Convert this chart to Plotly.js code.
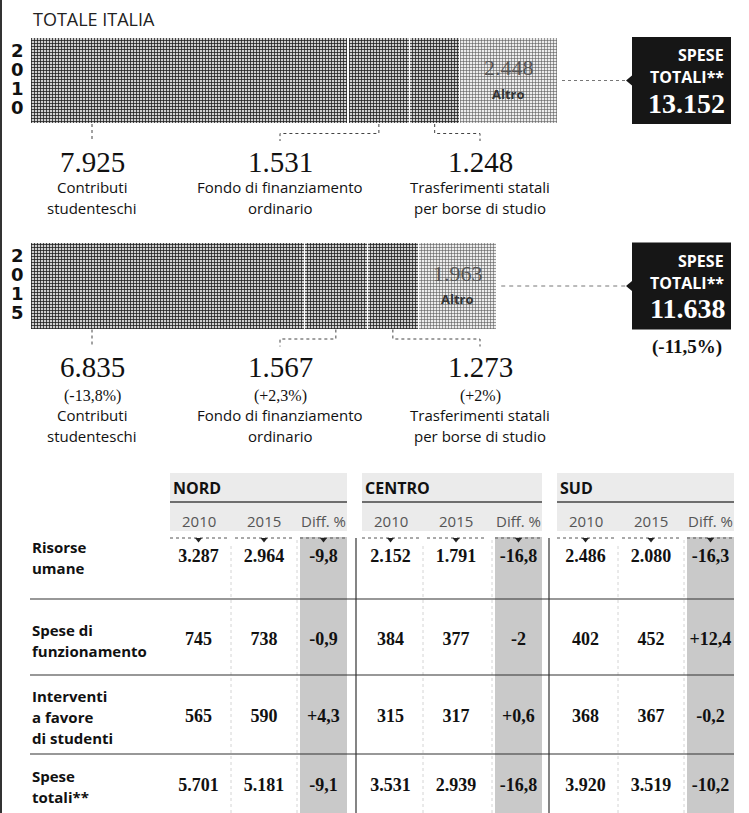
<!DOCTYPE html>
<html><head><meta charset="utf-8">
<script src="https://cdn.plot.ly/plotly-3.0.1.min.js"></script>
<style>html,body{margin:0;padding:0;background:#fff}</style>
</head><body><div id="chart" style="width:749px;height:813px"></div>
<script>
// ================= DATA =================
const years = ['2010', '2015'];
const segmentNames = ['Contributi<br>studenteschi', 'Fondo di finanziamento<br>ordinario', 'Trasferimenti statali<br>per borse di studio', 'Altro'];
const contributi = [7925, 6835];
const fondo = [1531, 1567];
const trasferimenti = [1248, 1273];
const altro = [2448, 1963];
const variazioni2015 = [-13.8, 2.3, 2];   // contributi, fondo, trasferimenti
const variazioneTotale2015 = -11.5;

const regions = ['NORD', 'CENTRO', 'SUD'];
const colHeaders = ['2010', '2015', 'Diff. %'];
const rowLabels = ['Risorse<br>umane', 'Spese di<br>funzionamento', 'Interventi<br>a favore<br>di studenti', 'Spese<br>totali**'];
const nord2010 = [3287, 745, 565, 5701];
const nord2015 = [2964, 738, 590, 5181];
const nordDiff = [-9.8, -0.9, 4.3, -9.1];
const centro2010 = [2152, 384, 315, 3531];
const centro2015 = [1791, 377, 317, 2939];
const centroDiff = [-16.8, -2, 0.6, -16.8];
const sud2010 = [2486, 402, 368, 3920];
const sud2015 = [2080, 452, 367, 3519];
const sudDiff = [-16.3, 12.4, -0.2, -10.2];

// ================= LAYOUT CONSTANTS =================
const W = 749, H = 813;
const SERIF = 'Liberation Serif, DejaVu Serif, serif';
const SANS = 'Open Sans, Noto Sans, sans-serif';
const BAR_X0 = 30, BAR_LEN_2010 = 528, BAR_CY = [80.5, 286], BAR_H = 87;
const LABEL_X = [92, 280, 480];
const BOX_X0 = 632, BOX_X1 = 731;
const GROUP_X0 = [170, 362, 557], GROUP_X1 = [347, 542, 734];
const HEAD_Y = 488, HEAD_LINE_Y = 502, SUB_Y = 521, BAND_TOP = 473, BAND_BOTTOM = 531, DOT_Y = 538;
const ROW_Y = [557, 640, 717, 786], ROW_LINE_Y = [599, 675, 754], SEP_X = [356, 549];

// ================= HELPERS =================
const segs = [contributi, fondo, trasferimenti, altro];
const totals = years.map((_, i) => segs.reduce((a, s) => a + s[i], 0));
const S = BAR_LEN_2010 / totals[0];
const toPx = v => BAR_X0 + v * S;
const CAT_STEP = BAR_CY[1] - BAR_CY[0];
const fmtInt = n => String(n).replace(/\B(?=(\d{3})+(?!\d))/g, '.');
const fmtDec = d => String(d).replace('.', ',');
const fmtDiff = d => (d > 0 ? '+' : '') + fmtDec(d);

function ann(x, y, text, font, xanchor, extra) {
  return Object.assign({x: x, y: y, xref: 'x2', yref: 'y2', text: text, showarrow: false,
    xanchor: xanchor || 'center', yanchor: 'middle', font: font}, extra || {});
}
const shapes = [], annotations = [], traces = [];
const line = (x0, y0, x1, y1, color, width, dash, layer) => shapes.push({type: 'line', xref: 'x2', yref: 'y2',
  x0: x0, y0: y0, x1: x1, y1: y1, line: {color: color, width: width, dash: dash || 'solid'}, layer: layer || 'above'});
const rect = (x0, y0, x1, y1, fill, layer) => shapes.push({type: 'rect', xref: 'x2', yref: 'y2',
  x0: x0, y0: y0, x1: x1, y1: y1, fillcolor: fill, line: {width: 0}, layer: layer || 'below'});
const path = (d, fill, lc, lw, dash) => shapes.push({type: 'path', xref: 'x2', yref: 'y2', path: d,
  fillcolor: fill || 'rgba(0,0,0,0)', line: {color: lc || 'rgba(0,0,0,0)', width: lw || 0, dash: dash || 'solid'}});

// ================= BARS =================
const darkPattern = {shape: '+', size: 3, solidity: 0.45, fgcolor: '#1e1e1e', bgcolor: '#cfcfcf', fillmode: 'replace'};
const lightPattern = {shape: '+', size: 3, solidity: 0.35, fgcolor: '#5a5a5a', bgcolor: '#ececec', fillmode: 'replace'};
segs.forEach((vals, k) => {
  traces.push({type: 'bar', orientation: 'h', x: vals, y: years, name: segmentNames[k],
    width: BAR_H / CAT_STEP, xaxis: 'x', yaxis: 'y', hoverinfo: 'skip',
    marker: {color: k < 3 ? '#777' : '#b0b0b0', pattern: k < 3 ? darkPattern : lightPattern,
      line: {color: '#fff', width: 1.5}}});
});

annotations.push(ann(31, 18.5, 'TOTALE ITALIA', {family: SANS, size: 18, color: '#222'}, 'left'));

years.forEach((yr, i) => {
  const cy = BAR_CY[i], top = cy - BAR_H / 2, bottom = cy + BAR_H / 2;
  // year digits
  yr.split('').forEach((d, k) => annotations.push(ann(17, cy - 2 + (k - 1.5) * 19, '<b>' + d + '</b>',
    {family: 'DejaVu Sans, sans-serif', size: 18, color: '#111'})));
  // Altro label
  const altroStart = contributi[i] + fondo[i] + trasferimenti[i];
  annotations.push({x: altroStart + altro[i] / 2, y: i, xref: 'x', yref: 'y', yshift: 13, showarrow: false,
    text: fmtInt(altro[i]), font: {family: SERIF, size: 22, color: '#555'}});
  annotations.push({x: altroStart + altro[i] / 2, y: i, xref: 'x', yref: 'y', yshift: -13, showarrow: false,
    text: '<b>' + segmentNames[3] + '</b>', font: {family: SANS, size: 13, color: '#333'}});
  // connectors and labels for first three segments
  let cum = 0;
  for (let k = 0; k < 3; k++) {
    const v = segs[k][i];
    const cx = toPx(cum + v / 2);
    const knee = bottom + 9.5, end = bottom + 17;
    if (k === 0) path('M' + LABEL_X[0] + ',' + bottom + ' V' + end, null, '#444', 1, 'dot');
    else path('M' + cx + ',' + bottom + ' V' + knee + ' H' + LABEL_X[k] + ' V' + end, null, '#444', 1, 'dot');
    cum += v;
    annotations.push(ann(LABEL_X[k], bottom + 37.5, fmtInt(v), {family: SERIF, size: 29, color: '#111'}));
    let nameY = bottom + 63;
    if (i === 1) {
      annotations.push(ann(LABEL_X[k], bottom + 66, '(' + (variazioni2015[k] > 0 ? '+' : '') + fmtDec(variazioni2015[k]) + '%)',
        {family: SERIF, size: 16, color: '#111'}));
      nameY = bottom + 85;
    }
    segmentNames[k].split('<br>').forEach((ln, j) => annotations.push(ann(LABEL_X[k], nameY + j * 21, ln,
      {family: SANS, size: 15, color: '#111'})));
  }
  // total box
  const endPx = toPx(totals[i]);
  line(endPx + 4, cy, BOX_X0 - 6, cy, '#777', 1, i === 0 ? 'dot' : '4px,4px');
  rect(BOX_X0, top, BOX_X1, bottom, '#161616', 'above');
  path('M' + BOX_X0 + ',' + (cy - 5) + ' L' + (BOX_X0 - 6) + ',' + cy + ' L' + BOX_X0 + ',' + (cy + 5) + ' Z', '#161616');
  annotations.push(ann(BOX_X1 - 5, top + 18, '<b>SPESE</b>', {family: SANS, size: 16, color: '#fff'}, 'right'));
  annotations.push(ann(BOX_X1 - 5, top + 40, '<b>TOTALI**</b>', {family: SANS, size: 16, color: '#fff'}, 'right'));
  annotations.push(ann(BOX_X1 - 4, top + 66, '<b>' + fmtInt(totals[i]) + '</b>', {family: SERIF, size: 28, color: '#fff'}, 'right'));
  if (i === 1) annotations.push(ann((BOX_X0 + BOX_X1) / 2 + 5, bottom + 17, '<b>(' + fmtDec(variazioneTotale2015) + '%)</b>',
    {family: SERIF, size: 19, color: '#111'}));
});

// ================= TABLE =================
line(1, 0, 1, H, '#333', 2);
const tableData = [[nord2010, nord2015, nordDiff], [centro2010, centro2015, centroDiff], [sud2010, sud2015, sudDiff]];
regions.forEach((reg, g) => {
  const x0 = GROUP_X0[g], x1 = GROUP_X1[g];
  const cols = [[x0, x0 + 57], [x0 + 65, x0 + 123], [x1 - 47, x1]];
  rect(x0, BAND_TOP, x1, BAND_BOTTOM, '#ebebeb');
  rect(x1 - 47, DOT_Y - 1, x1, H, '#c9c9c9');
  line(x0, HEAD_LINE_Y, x1, HEAD_LINE_Y, '#444', 1.5);
  annotations.push(ann(x0 + 1, HEAD_Y, '<b>' + reg + '</b>', {family: SANS, size: 16, color: '#111'}, 'left'));
  line(x0 + 61, DOT_Y + 8, x0 + 61, H, '#d4d4d4', 1, 'dot');
  line(x1 - 50, DOT_Y + 2, x1 - 50, H, '#d4d4d4', 1, 'dot');
  cols.forEach((c, j) => {
    const cx = (c[0] + c[1]) / 2;
    annotations.push(ann(cx, SUB_Y, colHeaders[j], {family: SANS, size: 15, color: '#555'}));
    line(c[0], DOT_Y, c[1], DOT_Y, '#555', 1, 'dot');
    path('M' + (cx - 3.5) + ',' + DOT_Y + ' L' + (cx + 3.5) + ',' + DOT_Y + ' L' + cx + ',' + (DOT_Y + 4.5) + ' Z', '#222');
    const vals = tableData[g][j];
    traces.push({type: 'scatter', mode: 'text', xaxis: 'x2', yaxis: 'y2', hoverinfo: 'skip',
      x: vals.map(() => cx), y: ROW_Y,
      text: vals.map(v => '<b>' + (j === 2 ? fmtDiff(v) : fmtInt(v)) + '</b>'),
      textfont: {family: SERIF, size: 18, color: '#111'}, textposition: 'middle center'});
  });
});
SEP_X.forEach(x => line(x, DOT_Y, x, H, '#333', 1.2));
ROW_LINE_Y.forEach(y => line(30, y, 734, y, '#333', 1.2));
rowLabels.forEach((lab, r) => {
  const parts = lab.split('<br>');
  parts.forEach((p, j) => annotations.push(ann(30, ROW_Y[r] + (j - (parts.length - 1) / 2) * 21, '<b>' + p + '</b>',
    {family: SANS, size: 15, color: '#111'}, 'left')));
});

// ================= LAYOUT =================
const layout = {
  width: W, height: H, margin: {l: 0, r: 0, t: 0, b: 0}, showlegend: false, barmode: 'stack', bargap: 0,
  paper_bgcolor: '#fff', plot_bgcolor: 'rgba(0,0,0,0)',
  xaxis: {domain: [0, 1], range: [-BAR_X0 / S, (W - BAR_X0) / S], visible: false, fixedrange: true},
  yaxis: {domain: [0, 1], type: 'category', categoryarray: years, categoryorder: 'array',
    range: [(H - BAR_CY[0]) / CAT_STEP, -BAR_CY[0] / CAT_STEP], visible: false, fixedrange: true},
  xaxis2: {domain: [0, 1], range: [0, W], visible: false, overlaying: 'x', fixedrange: true},
  yaxis2: {domain: [0, 1], range: [H, 0], visible: false, overlaying: 'y', fixedrange: true},
  shapes: shapes, annotations: annotations
};
Plotly.newPlot('chart', traces, layout, {displayModeBar: false, staticPlot: true});
</script></body></html>
